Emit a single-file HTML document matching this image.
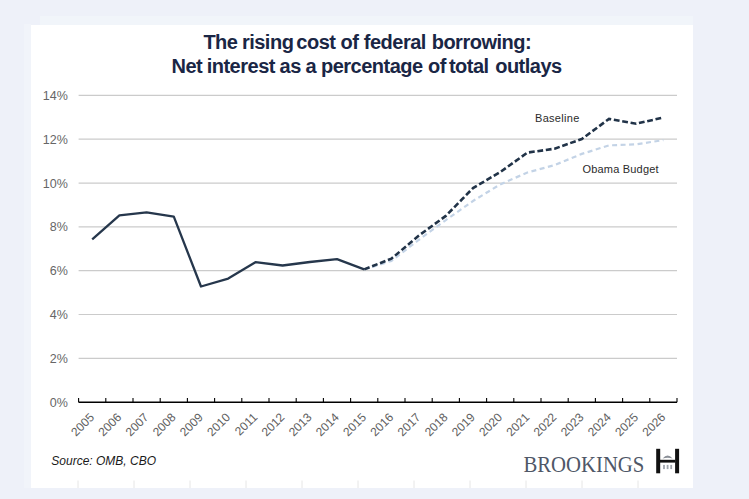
<!DOCTYPE html>
<html><head><meta charset="utf-8">
<style>
html,body{margin:0;padding:0;}
body{width:749px;height:499px;background:#eef1f9;position:relative;overflow:hidden;font-family:"Liberation Sans",sans-serif;}
#bandt{position:absolute;left:40px;top:16px;width:653px;height:9px;background:#f1f5fa;}
#bandl{position:absolute;left:24px;top:24px;width:7px;height:464px;background:#f1f4fa;}
#panel{position:absolute;left:31px;top:25px;width:662px;height:463px;background:#fff;}
svg{position:absolute;left:0;top:0;}
</style></head><body>
<div id="bandt"></div><div id="bandl"></div>
<div id="panel"></div>
<svg width="749" height="499" viewBox="0 0 749 499">
<g font-family="Liberation Sans" font-weight="bold" font-size="20" letter-spacing="-0.5" fill="#1a2645">
<text x="203.4" y="49.4">The</text><text x="241.9" y="49.4">rising</text><text x="296.3" y="49.4">cost</text><text x="340.6" y="49.4">of</text><text x="363.8" y="49.4">federal</text><text x="431.7" y="49.4">borrowing:</text>
<text x="171.5" y="73.4">Net</text><text x="206.7" y="73.4">interest</text><text x="279.6" y="73.4">as</text><text x="305.6" y="73.4">a</text><text x="321.0" y="73.4">percentage</text><text x="428.0" y="73.4">of</text><text x="448.9" y="73.4">total</text><text x="495.2" y="73.4">outlays</text>
</g>
<line x1="78.6" y1="358.4" x2="677.0" y2="358.4" stroke="#cbcbcb" stroke-width="1.2"/>
<line x1="78.6" y1="314.5" x2="677.0" y2="314.5" stroke="#cbcbcb" stroke-width="1.2"/>
<line x1="78.6" y1="270.7" x2="677.0" y2="270.7" stroke="#cbcbcb" stroke-width="1.2"/>
<line x1="78.6" y1="226.9" x2="677.0" y2="226.9" stroke="#cbcbcb" stroke-width="1.2"/>
<line x1="78.6" y1="183.1" x2="677.0" y2="183.1" stroke="#cbcbcb" stroke-width="1.2"/>
<line x1="78.6" y1="139.2" x2="677.0" y2="139.2" stroke="#cbcbcb" stroke-width="1.2"/>
<line x1="78.6" y1="95.4" x2="677.0" y2="95.4" stroke="#cbcbcb" stroke-width="1.2"/>

<line x1="78" y1="480.5" x2="78" y2="488" stroke="#e6e6e6" stroke-width="1"/><line x1="134" y1="480.5" x2="134" y2="488" stroke="#e6e6e6" stroke-width="1"/><line x1="190" y1="480.5" x2="190" y2="488" stroke="#e6e6e6" stroke-width="1"/><line x1="246" y1="480.5" x2="246" y2="488" stroke="#e6e6e6" stroke-width="1"/><line x1="302" y1="480.5" x2="302" y2="488" stroke="#e6e6e6" stroke-width="1"/><line x1="358" y1="480.5" x2="358" y2="488" stroke="#e6e6e6" stroke-width="1"/><line x1="414" y1="480.5" x2="414" y2="488" stroke="#e6e6e6" stroke-width="1"/><line x1="470" y1="480.5" x2="470" y2="488" stroke="#e6e6e6" stroke-width="1"/><line x1="526" y1="480.5" x2="526" y2="488" stroke="#e6e6e6" stroke-width="1"/><line x1="582" y1="480.5" x2="582" y2="488" stroke="#e6e6e6" stroke-width="1"/><line x1="638" y1="480.5" x2="638" y2="488" stroke="#e6e6e6" stroke-width="1"/>
<g font-family="Liberation Sans" font-size="12.5" fill="#666666">
<text x="67.8" y="406.7" text-anchor="end">0%</text>
<text x="67.8" y="362.9" text-anchor="end">2%</text>
<text x="67.8" y="319.0" text-anchor="end">4%</text>
<text x="67.8" y="275.2" text-anchor="end">6%</text>
<text x="67.8" y="231.4" text-anchor="end">8%</text>
<text x="67.8" y="187.6" text-anchor="end">10%</text>
<text x="67.8" y="143.7" text-anchor="end">12%</text>
<text x="67.8" y="99.9" text-anchor="end">14%</text>

</g>
<line x1="78.6" y1="402.2" x2="677.0" y2="402.2" stroke="#000" stroke-width="1.5"/>
<line x1="78.6" y1="398" x2="78.6" y2="402.2" stroke="#000" stroke-width="1.1"/>
<line x1="105.8" y1="398" x2="105.8" y2="402.2" stroke="#000" stroke-width="1.1"/>
<line x1="133.0" y1="398" x2="133.0" y2="402.2" stroke="#000" stroke-width="1.1"/>
<line x1="160.2" y1="398" x2="160.2" y2="402.2" stroke="#000" stroke-width="1.1"/>
<line x1="187.4" y1="398" x2="187.4" y2="402.2" stroke="#000" stroke-width="1.1"/>
<line x1="214.6" y1="398" x2="214.6" y2="402.2" stroke="#000" stroke-width="1.1"/>
<line x1="241.8" y1="398" x2="241.8" y2="402.2" stroke="#000" stroke-width="1.1"/>
<line x1="269.0" y1="398" x2="269.0" y2="402.2" stroke="#000" stroke-width="1.1"/>
<line x1="296.2" y1="398" x2="296.2" y2="402.2" stroke="#000" stroke-width="1.1"/>
<line x1="323.4" y1="398" x2="323.4" y2="402.2" stroke="#000" stroke-width="1.1"/>
<line x1="350.6" y1="398" x2="350.6" y2="402.2" stroke="#000" stroke-width="1.1"/>
<line x1="377.8" y1="398" x2="377.8" y2="402.2" stroke="#000" stroke-width="1.1"/>
<line x1="405.0" y1="398" x2="405.0" y2="402.2" stroke="#000" stroke-width="1.1"/>
<line x1="432.2" y1="398" x2="432.2" y2="402.2" stroke="#000" stroke-width="1.1"/>
<line x1="459.4" y1="398" x2="459.4" y2="402.2" stroke="#000" stroke-width="1.1"/>
<line x1="486.6" y1="398" x2="486.6" y2="402.2" stroke="#000" stroke-width="1.1"/>
<line x1="513.8" y1="398" x2="513.8" y2="402.2" stroke="#000" stroke-width="1.1"/>
<line x1="541.0" y1="398" x2="541.0" y2="402.2" stroke="#000" stroke-width="1.1"/>
<line x1="568.2" y1="398" x2="568.2" y2="402.2" stroke="#000" stroke-width="1.1"/>
<line x1="595.4" y1="398" x2="595.4" y2="402.2" stroke="#000" stroke-width="1.1"/>
<line x1="622.6" y1="398" x2="622.6" y2="402.2" stroke="#000" stroke-width="1.1"/>
<line x1="649.8" y1="398" x2="649.8" y2="402.2" stroke="#000" stroke-width="1.1"/>
<line x1="677.0" y1="398" x2="677.0" y2="402.2" stroke="#000" stroke-width="1.1"/>

<g font-family="Liberation Sans" font-size="12" fill="#606060">
<text transform="translate(88.7,411.8) rotate(-45)" text-anchor="end" dominant-baseline="hanging">2005</text>
<text transform="translate(115.9,411.8) rotate(-45)" text-anchor="end" dominant-baseline="hanging">2006</text>
<text transform="translate(143.1,411.8) rotate(-45)" text-anchor="end" dominant-baseline="hanging">2007</text>
<text transform="translate(170.3,411.8) rotate(-45)" text-anchor="end" dominant-baseline="hanging">2008</text>
<text transform="translate(197.5,411.8) rotate(-45)" text-anchor="end" dominant-baseline="hanging">2009</text>
<text transform="translate(224.7,411.8) rotate(-45)" text-anchor="end" dominant-baseline="hanging">2010</text>
<text transform="translate(251.9,411.8) rotate(-45)" text-anchor="end" dominant-baseline="hanging">2011</text>
<text transform="translate(279.1,411.8) rotate(-45)" text-anchor="end" dominant-baseline="hanging">2012</text>
<text transform="translate(306.3,411.8) rotate(-45)" text-anchor="end" dominant-baseline="hanging">2013</text>
<text transform="translate(333.5,411.8) rotate(-45)" text-anchor="end" dominant-baseline="hanging">2014</text>
<text transform="translate(360.7,411.8) rotate(-45)" text-anchor="end" dominant-baseline="hanging">2015</text>
<text transform="translate(387.9,411.8) rotate(-45)" text-anchor="end" dominant-baseline="hanging">2016</text>
<text transform="translate(415.1,411.8) rotate(-45)" text-anchor="end" dominant-baseline="hanging">2017</text>
<text transform="translate(442.3,411.8) rotate(-45)" text-anchor="end" dominant-baseline="hanging">2018</text>
<text transform="translate(469.5,411.8) rotate(-45)" text-anchor="end" dominant-baseline="hanging">2019</text>
<text transform="translate(496.7,411.8) rotate(-45)" text-anchor="end" dominant-baseline="hanging">2020</text>
<text transform="translate(523.9,411.8) rotate(-45)" text-anchor="end" dominant-baseline="hanging">2021</text>
<text transform="translate(551.1,411.8) rotate(-45)" text-anchor="end" dominant-baseline="hanging">2022</text>
<text transform="translate(578.3,411.8) rotate(-45)" text-anchor="end" dominant-baseline="hanging">2023</text>
<text transform="translate(605.5,411.8) rotate(-45)" text-anchor="end" dominant-baseline="hanging">2024</text>
<text transform="translate(632.7,411.8) rotate(-45)" text-anchor="end" dominant-baseline="hanging">2025</text>
<text transform="translate(659.9,411.8) rotate(-45)" text-anchor="end" dominant-baseline="hanging">2026</text>

</g>
<polyline points="364.2,269.4 391.4,260.9 418.6,240.0 445.8,220.1 473.0,201.0 500.2,184.4 527.4,172.5 554.6,165.1 581.8,153.9 609.0,145.4 636.2,144.3 663.4,140.1" fill="none" stroke="#c3d3e6" stroke-width="2.2" stroke-dasharray="5 3.5"/>
<polyline points="364.2,269.4 391.4,258.7 418.6,235.7 445.8,215.9 473.0,188.1 500.2,172.1 527.4,152.6 554.6,148.7 581.8,139.0 609.0,118.9 636.2,123.7 663.4,117.5" fill="none" stroke="#213348" stroke-width="2.6" stroke-dasharray="5.8 2.7"/>
<polyline points="92.2,239.4 119.4,215.3 146.6,212.4 173.8,216.6 201.0,286.5 228.2,278.6 255.4,262.2 282.6,265.5 309.8,262.0 337.0,259.1 364.2,269.4" fill="none" stroke="#26374c" stroke-width="2.3" stroke-linejoin="round"/>
<g font-family="Liberation Sans" font-size="11" fill="#2b2b2b">
<text x="535" y="122.2" letter-spacing="0.3">Baseline</text>
<text x="582.4" y="172.6" letter-spacing="0.2">Obama Budget</text>
</g>
<text x="51.3" y="465" font-family="Liberation Sans" font-style="italic" font-size="12" fill="#1a1a1a">Source: OMB, CBO</text>
<text x="523.4" y="471.5" font-family="Liberation Serif" font-size="23.3" fill="#4f5767" textLength="121" lengthAdjust="spacingAndGlyphs">BROOKINGS</text>
<g>
<rect x="656.2" y="448.8" width="4" height="24.5" fill="#111"/>
<rect x="675.1" y="448.8" width="4" height="24.5" fill="#111"/>
<rect x="660" y="459.8" width="15.2" height="2.8" fill="#111"/>
<path d="M662.6,458.4 Q667.6,452.4 672.6,458.4 Q667.6,457.2 662.6,458.4 Z" fill="#8a8f97"/>
<rect x="663.1" y="464.9" width="1.8" height="4.2" fill="#a0a5ad"/>
<rect x="666.7" y="464.9" width="1.8" height="4.2" fill="#a0a5ad"/>
<rect x="670.3" y="464.9" width="1.8" height="4.2" fill="#a0a5ad"/>
</g>
</svg>
</body></html>
